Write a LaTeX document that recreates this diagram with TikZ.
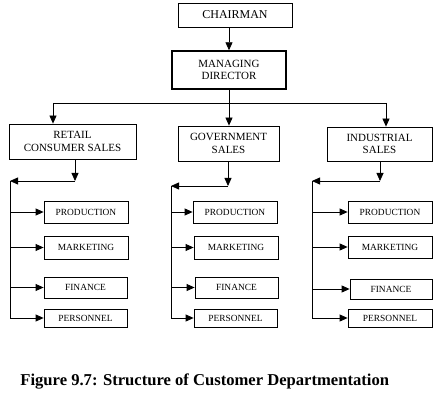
\documentclass[tikz,border=0pt]{standalone}
\usepackage{fontspec}
\setmainfont{Liberation Serif}
\usetikzlibrary{arrows.meta}
\begin{document}
\begin{tikzpicture}[x=1pt,y=-1pt,
  line width=0.8pt,
  arr/.style={-{Triangle[length=8pt,width=7pt]}},
  box/.style={draw,inner sep=0pt,align=center,font=\fontsize{11}{12.5}\selectfont},
  sub/.style={draw,inner sep=0pt,minimum width=84pt,minimum height=22pt,font=\fontsize{9.4}{10}\selectfont}]
\useasboundingbox (0,0) rectangle (444,403);
% top
\node[box,minimum width=114pt,minimum height=24pt,font=\fontsize{12}{13}\selectfont] (chair) at (235,15) {CHAIRMAN};
\node[box,minimum width=114pt,minimum height=38pt,line width=1.4pt] (md) at (229,70) {MANAGING\\DIRECTOR};
\draw[arr] (chair.south -| md.north) -- (md.north);
% level 2
\node[box,minimum width=127pt,minimum height=35pt] (retail) at (72.5,141.5) {RETAIL\\CONSUMER SALES};
\node[box,minimum width=101pt,minimum height=35pt] (gov) at (228.5,143.5) {GOVERNMENT\\SALES};
\node[box,minimum width=105pt,minimum height=34pt] (ind) at (379.5,144) {INDUSTRIAL\\SALES};
\coordinate (bL) at (53,103);
\coordinate (bM) at (229,103);
\coordinate (bR) at (386,103);
\draw (md.south) -- (bM);
\draw (bL) -- (bR);
\draw[arr] (bL) -- (bL |- retail.north);
\draw[arr] (bM) -- (bM |- gov.north);
\draw[arr] (bR) -- (bR |- ind.north);
% retail column
\node[sub] (p1) at (86,212) {PRODUCTION};
\node[sub,minimum height=23pt] (m1) at (86,247.5) {MARKETING};
\node[sub,minimum width=83pt,minimum height=21pt] (f1) at (85.5,287.5) {FINANCE};
\node[sub,minimum width=83pt,minimum height=18pt] (s1) at (85.5,318) {PERSONNEL};
\coordinate (r1) at (75,181);
\coordinate (r0) at (10,181);
\draw[arr] (retail.south -| r1) -- (r1);
\draw[arr] (r1) -- (r0);
\draw (r0) -- (r0 |- s1.west);
\foreach \n in {p1,m1,f1,s1} \draw[arr] (r0 |- \n.west) -- (\n.west);
% government column
\node[sub] (p2) at (235,212) {PRODUCTION};
\node[sub,minimum height=23pt] (m2) at (236,247.5) {MARKETING};
\node[sub,minimum width=83pt,minimum height=21pt] (f2) at (236.5,287.5) {FINANCE};
\node[sub,minimum width=83pt,minimum height=18pt] (s2) at (235.5,318) {PERSONNEL};
\coordinate (g1) at (228,186);
\coordinate (g0) at (171,186);
\draw[arr] (gov.south -| g1) -- (g1);
\draw[arr] (g1) -- (g0);
\draw (g0) -- (g0 |- s2.west);
\foreach \n in {p2,m2,f2,s2} \draw[arr] (g0 |- \n.west) -- (\n.west);
% industrial column
\node[sub] (p3) at (390,212) {PRODUCTION};
\node[sub] (m3) at (390,247) {MARKETING};
\node[sub,minimum width=82pt,minimum height=20pt] (f3) at (391,289) {FINANCE};
\node[sub,minimum height=18pt] (s3) at (390,318) {PERSONNEL};
\coordinate (i1) at (380,181);
\coordinate (i0) at (312,181);
\draw[arr] (ind.south -| i1) -- (i1);
\draw[arr] (i1) -- (i0);
\draw (i0) -- (i0 |- s3.west);
\foreach \n in {p3,m3,f3,s3} \draw[arr] (i0 |- \n.west) -- (\n.west);
% caption
\node[anchor=west,inner sep=0pt,font=\fontsize{16.6}{18}\selectfont\bfseries] (cap) at (20,381) {Figure 9.7: Structure of Customer Departmentation};
\end{tikzpicture}
\end{document}
